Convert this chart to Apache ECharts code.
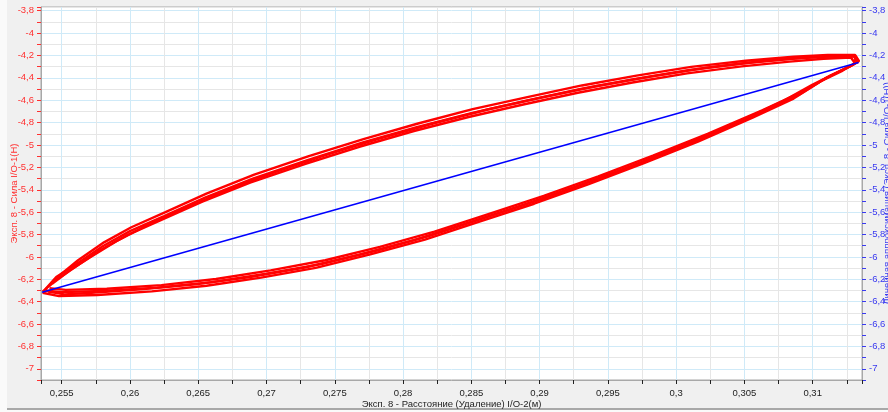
<!DOCTYPE html>
<html><head><meta charset="utf-8">
<script src="https://cdn.jsdelivr.net/npm/echarts@6/dist/echarts.min.js"></script>
<style>
html,body{margin:0;padding:0;background:#fafafa;}
#bg{position:absolute;left:7px;top:0;width:881px;height:408px;background:#f0f0f0;border-bottom:2px solid #a8a8a8;}
#chart{position:absolute;left:0;top:0;width:888px;height:412px;}
</style></head>
<body><div id="bg"></div><div id="chart"></div>
<script>
// Axis titles
const xName = 'Эксп. 8 - Расстояние (Удаление) I/O-2(м)';
const yLeftName = 'Эксп. 8 - Сила I/O-1(Н)';
const yRightName = 'Линейная аппроксимация (Эксп. 8 - Сила I/O-1(Н))';

// Axis ranges
const xRange = [0.253484, 0.313611];
const yRange = [-7.1, -3.767];

// Recorded hysteresis cycles: [distance (m), force (N)]
const cycle1 = [[0.2538,-6.29],[0.2546,-6.18],[0.2560,-6.07],[0.2580,-5.905],[0.2600,-5.77],[0.2625,-5.635],[0.2655,-5.47],[0.2690,-5.30],[0.2730,-5.135],[0.2770,-4.98],[0.2810,-4.84],[0.2850,-4.715],[0.2890,-4.605],[0.2930,-4.50],[0.2970,-4.41],[0.3010,-4.33],[0.3050,-4.27],[0.3085,-4.23],[0.3110,-4.21],[0.3130,-4.205],
  [0.3133,-4.26],[0.3125,-4.31],[0.3110,-4.40],[0.3090,-4.55],[0.3060,-4.72],[0.3020,-4.935],[0.2980,-5.13],[0.2940,-5.315],[0.2900,-5.49],[0.2860,-5.65],[0.2820,-5.81],[0.2780,-5.945],[0.2740,-6.065],[0.2700,-6.15],[0.2660,-6.225],[0.2620,-6.275],[0.2580,-6.305],[0.2550,-6.315],[0.2538,-6.30]];
const cycle2 = [[0.2541,-6.26],[0.2550,-6.15],[0.2562,-6.03],[0.2581,-5.87],[0.2601,-5.735],[0.2626,-5.60],[0.2656,-5.435],[0.2691,-5.265],[0.2731,-5.10],[0.2771,-4.948],[0.2811,-4.808],[0.2851,-4.68],[0.2891,-4.572],[0.2931,-4.468],[0.2971,-4.38],[0.3011,-4.302],[0.3051,-4.247],[0.3086,-4.212],[0.3111,-4.196],[0.3131,-4.196],
  [0.3134,-4.25],[0.3127,-4.30],[0.3113,-4.38],[0.3093,-4.52],[0.3063,-4.69],[0.3023,-4.90],[0.2983,-5.095],[0.2943,-5.28],[0.2903,-5.455],[0.2863,-5.615],[0.2823,-5.775],[0.2783,-5.91],[0.2743,-6.03],[0.2703,-6.12],[0.2663,-6.198],[0.2623,-6.252],[0.2583,-6.285],[0.2553,-6.295],[0.2541,-6.28]];
const cycle3 = [[0.2536,-6.31],[0.2545,-6.215],[0.2558,-6.105],[0.2578,-5.94],[0.2598,-5.805],[0.2623,-5.67],[0.2653,-5.507],[0.2688,-5.337],[0.2728,-5.17],[0.2768,-5.016],[0.2808,-4.875],[0.2848,-4.75],[0.2888,-4.638],[0.2928,-4.533],[0.2968,-4.442],[0.3008,-4.36],[0.3048,-4.298],[0.3083,-4.255],[0.3108,-4.23],[0.3128,-4.218],
  [0.3131,-4.27],[0.3122,-4.335],[0.3106,-4.43],[0.3086,-4.585],[0.3056,-4.755],[0.3016,-4.97],[0.2976,-5.165],[0.2936,-5.35],[0.2896,-5.525],[0.2856,-5.685],[0.2816,-5.845],[0.2776,-5.978],[0.2736,-6.098],[0.2696,-6.185],[0.2656,-6.258],[0.2616,-6.308],[0.2576,-6.34],[0.2548,-6.35],[0.2536,-6.32]];
const cycle4 = [[0.2543,-6.24],[0.2556,-6.12],[0.2570,-6.01],[0.2590,-5.86],[0.2612,-5.72],[0.2637,-5.585],[0.2667,-5.425],[0.2702,-5.26],[0.2742,-5.095],[0.2782,-4.945],[0.2822,-4.808],[0.2862,-4.683],[0.2902,-4.575],[0.2942,-4.473],[0.2982,-4.387],[0.3022,-4.31],[0.3062,-4.252],[0.3092,-4.222],[0.3115,-4.208],[0.3132,-4.21],
  [0.3130,-4.28],[0.3118,-4.35],[0.3100,-4.46],[0.3078,-4.61],[0.3048,-4.78],[0.3008,-4.99],[0.2968,-5.185],[0.2928,-5.365],[0.2888,-5.535],[0.2848,-5.695],[0.2808,-5.85],[0.2768,-5.98],[0.2728,-6.095],[0.2688,-6.18],[0.2648,-6.245],[0.2608,-6.29],[0.2572,-6.32],[0.2552,-6.335],[0.2540,-6.31]];
// Linear fit line
const fitLine = [[0.25356,-6.315],[0.31336,-4.262]];

const cycles = [cycle1, cycle2, cycle3, cycle4];

function isMajor(v, step){ const r = v/step; return Math.abs(r-Math.round(r)) < 1e-6; }
function fmt(v, step){ return isMajor(v, step) ? String(+v.toFixed(4)).replace('.', ',') : ''; }

const FONT = 'Liberation Sans, Arial, sans-serif';
const gridGrey = '#e6e6e6', gridBlue = '#cfeaf8';

function yAxis(pos, color, name, gap, showSplit){
  return {
    type:'value', position:pos, min:yRange[0], max:yRange[1],
    splitNumber:33, minInterval:0.1, maxInterval:0.1,
    name:name, nameLocation:'middle', nameGap:gap, nameMoveOverlap:false,
    nameTextStyle:{color:color, fontSize:9.5, fontFamily:FONT},
    axisLine:{show:true, lineStyle:{color:'#a8a8a8', width:1}},
    axisTick:{show:true, length:4, lineStyle:{color:color}},
    axisLabel:{color:color, fontSize:9.5, fontFamily:FONT, margin:7, formatter:v=>fmt(v,0.2), showMinLabel:true, showMaxLabel:true, hideOverlap:false},
    splitLine:{show:showSplit, lineStyle:{color:[gridGrey, gridBlue], width:1}}
  };
}

const chart = echarts.init(document.getElementById('chart'), null, {renderer:'canvas'});
const series = cycles.map(c => ({
  type:'line', data:c, xAxisIndex:0, yAxisIndex:0, showSymbol:false, symbol:'none',
  lineStyle:{color:'#ff0000', width:2.4}, itemStyle:{color:'#ff0000'}, animation:false, silent:true
}));
series.push({type:'line', data:fitLine, xAxisIndex:0, yAxisIndex:1, showSymbol:false, symbol:'none',
  lineStyle:{color:'#0000ff', width:1.6}, itemStyle:{color:'#0000ff'}, animation:false, silent:true, z:5});

chart.setOption({
  animation:false,
  backgroundColor:'transparent',
  textStyle:{fontFamily:FONT},
  grid:{left:41, right:26, top:7, bottom:32, containLabel:false, outerBoundsMode:'none',
        show:true, backgroundColor:'#ffffff', borderColor:'#a8a8a8', borderWidth:1},
  xAxis:{
    type:'value', min:xRange[0], max:xRange[1], splitNumber:24, minInterval:0.0025, maxInterval:0.0025,
    name:xName, nameLocation:'middle', nameGap:19, nameMoveOverlap:false,
    nameTextStyle:{color:'#222', fontSize:9.5, fontFamily:FONT},
    axisLine:{show:true, lineStyle:{color:'#a8a8a8'}},
    axisTick:{show:true, length:4, lineStyle:{color:'#222'}},
    axisLabel:{color:'#222', fontSize:9.5, fontFamily:FONT, margin:8, formatter:v=>fmt(v,0.005), hideOverlap:false},
    splitLine:{show:true, lineStyle:{color:[gridGrey, gridBlue], width:1}}
  },
  yAxis:[ yAxis('left', '#ff3030', yLeftName, 22, true), yAxis('right', '#3838f0', yRightName, 20.5, false) ],
  series:series
});
</script></body></html>
